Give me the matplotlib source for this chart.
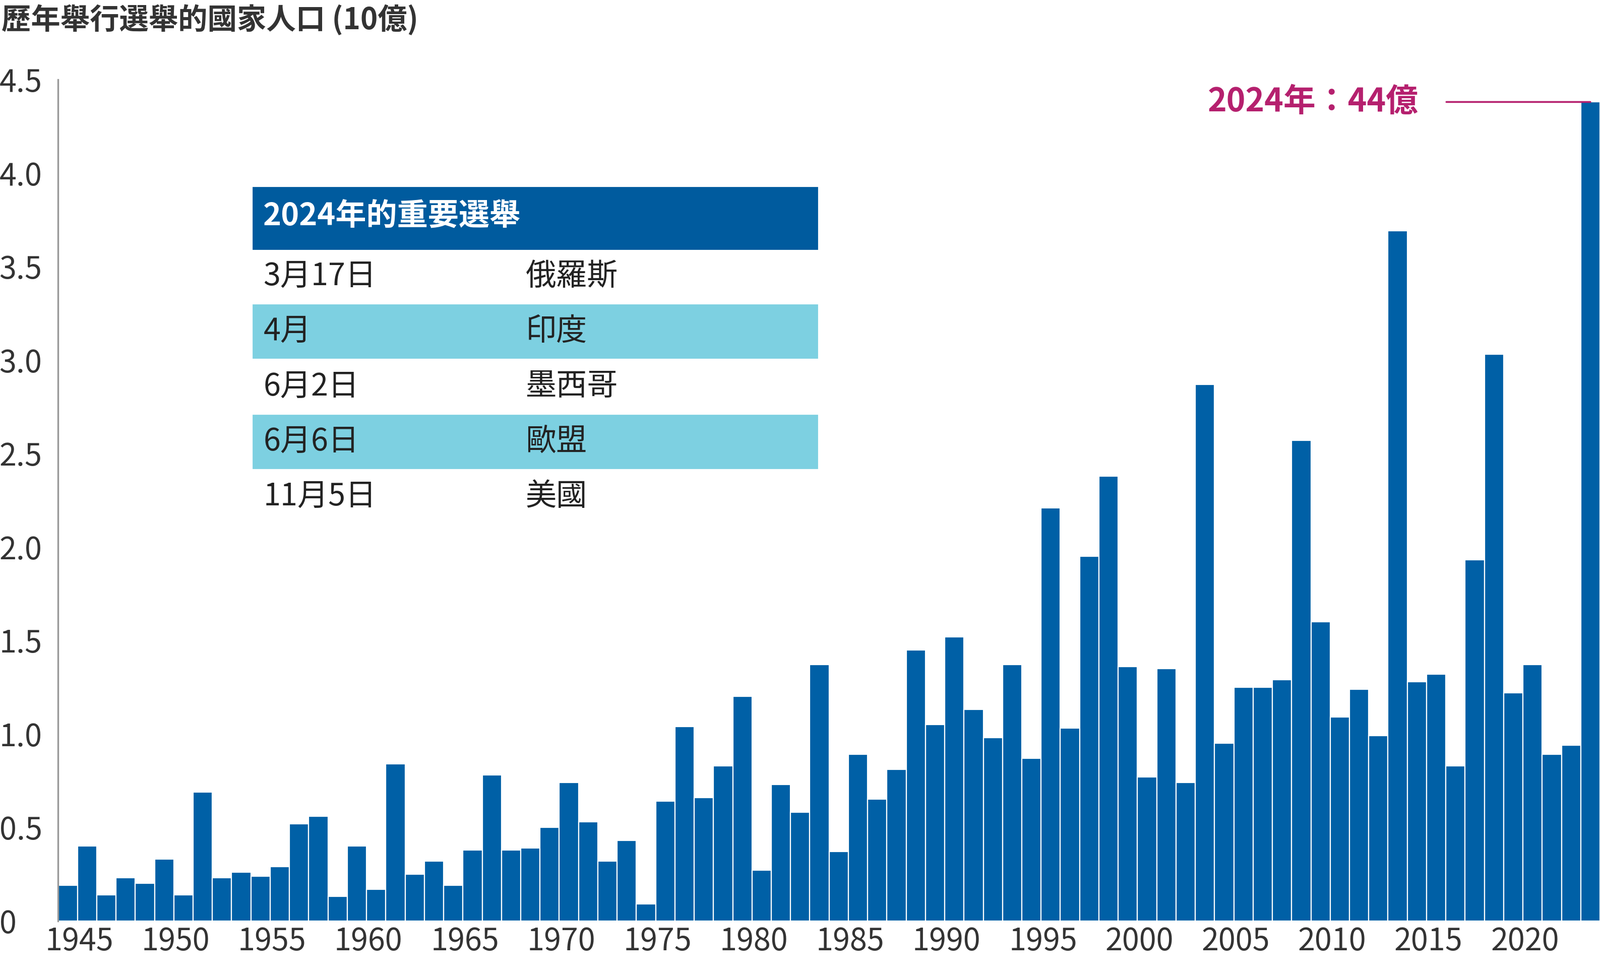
import matplotlib.pyplot as plt
import matplotlib.patches as mpatches

plt.rcParams['font.family'] = ['Noto Sans CJK TC', 'Noto Sans CJK JP',
                               'Noto Sans CJK SC', 'DejaVu Sans']

# data (billions of people)
years = list(range(1945, 2025))
population = [0.19, 0.40, 0.14, 0.23, 0.20, 0.33, 0.14, 0.69, 0.23, 0.26,
              0.24, 0.29, 0.52, 0.56, 0.13, 0.40, 0.17, 0.84, 0.25, 0.32,
              0.19, 0.38, 0.78, 0.38, 0.39, 0.50, 0.74, 0.53, 0.32, 0.43,
              0.09, 0.64, 1.04, 0.66, 0.83, 1.20, 0.27, 0.73, 0.58, 1.37,
              0.37, 0.89, 0.65, 0.81, 1.45, 1.05, 1.52, 1.13, 0.98, 1.37,
              0.87, 2.21, 1.03, 1.95, 2.38, 1.36, 0.77, 1.35, 0.74, 2.87,
              0.95, 1.25, 1.25, 1.29, 2.57, 1.60, 1.09, 1.24, 0.99, 3.69,
              1.28, 1.32, 0.83, 1.93, 3.03, 1.22, 1.37, 0.89, 0.94, 4.38]
tick_years = [1945, 1950, 1955, 1960, 1965, 1970, 1975, 1980, 1985, 1990,
              1995, 2000, 2005, 2010, 2015, 2020]
y_ticks = [0, 0.5, 1.0, 1.5, 2.0, 2.5, 3.0, 3.5, 4.0, 4.5]
y_labels = ['0', '0.5', '1.0', '1.5', '2.0', '2.5', '3.0', '3.5', '4.0', '4.5']
table_dates = ['3月17日', '4月', '6月2日', '6月6日', '11月5日']
table_countries = ['俄羅斯', '印度', '墨西哥', '歐盟', '美國']

blue = '#0060A6'
light = '#7DD0E1'
magenta = '#B5206E'
W, H = 1568, 960  # layout reference in displayed pixels

fig = plt.figure(figsize=(15.87, 9.715), dpi=200)
ax = fig.add_axes([57 / W, 1 - 903 / H, 1 - 57 / W, (903 - 78) / H])

x = [y - 1945 for y in years]
ax.bar(x, population, width=1.0, color=blue, edgecolor='white', linewidth=0.8)
ax.set_xlim(-0.5, len(years) - 0.5)
ax.set_ylim(0, 4.5)
ax.set_yticks(y_ticks)
ax.set_yticklabels(y_labels)
ax.set_xticks([y - 1945 + 0.6 for y in tick_years])
ax.set_xticklabels([str(y) for y in tick_years])
ax.tick_params(length=0, labelsize=22, colors='#333333')
for lab in ax.get_yticklabels():
    lab.set_horizontalalignment('left')
    lab.set_x(-0.035)
for s in ['top', 'right', 'bottom']:
    ax.spines[s].set_visible(False)
ax.spines['left'].set_color('#999999')
ax.spines['left'].set_linewidth(1.2)

fig.text(0.001, 1 - 20 / H, '歷年舉行選舉的國家人口 (10億)', fontsize=21,
         fontweight='bold', color='#333333', va='center', ha='left')

# annotation for 2024
ax.annotate('2024年：44億', xy=(len(years) - 1, population[-1]),
            xytext=(1390 / W, 1 - 100 / H), textcoords='figure fraction',
            ha='right', va='center', fontsize=23, fontweight='bold', color=magenta,
            arrowprops=dict(arrowstyle='-', color=magenta, lw=1.3,
                            shrinkA=18, shrinkB=0))

# table of key elections
def rect(x0, y0, x1, y1, color):
    fig.patches.append(mpatches.Rectangle((x0 / W, 1 - y1 / H), (x1 - x0) / W,
                                          (y1 - y0) / H, transform=fig.transFigure,
                                          color=color, zorder=3))

rect(248, 184, 801, 244, '#005B9E')
fig.text(258 / W, 1 - 212 / H, '2024年的重要選舉', fontsize=22, fontweight='bold',
         color='white', va='center', zorder=4)
row_top = 244
for i, (d, c) in enumerate(zip(table_dates, table_countries)):
    y0 = row_top + i * 54
    if i % 2 == 1:
        rect(248, y0 + 1, 801, y0 + 53, light)
    fig.text(258 / W, 1 - (y0 + 27) / H, d, fontsize=22, color='#222222',
             va='center', zorder=4)
    fig.text(515 / W, 1 - (y0 + 27) / H, c, fontsize=22, color='#222222',
             va='center', zorder=4)

fig.savefig('out.png', dpi=200)
